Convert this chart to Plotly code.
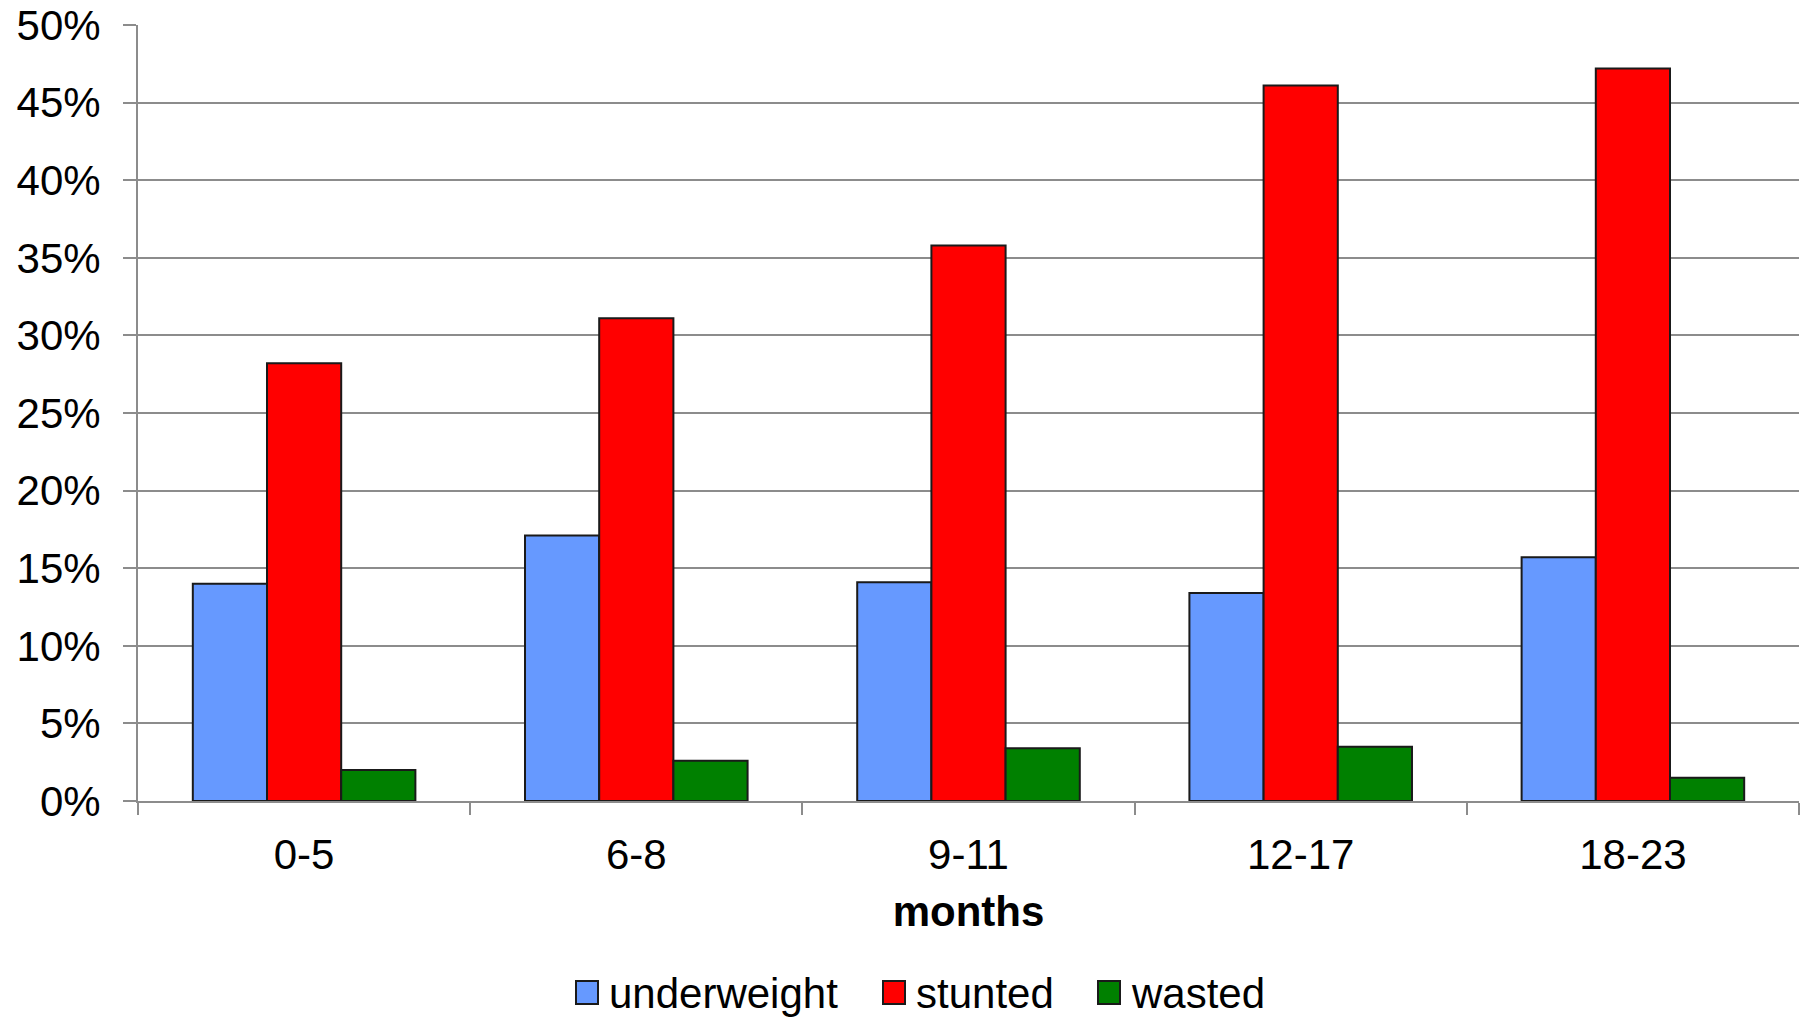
import plotly.graph_objects as go

# Age groups (months) and prevalence of each indicator, in percent
age_groups = ["0-5", "6-8", "9-11", "12-17", "18-23"]
underweight = [14.0, 17.1, 14.1, 13.4, 15.7]
stunted = [28.2, 31.1, 35.8, 46.1, 47.2]
wasted = [2.0, 2.6, 3.4, 3.5, 1.5]
y_ticks = [0, 5, 10, 15, 20, 25, 30, 35, 40, 45, 50]
y_tick_text = [f"{v}%" for v in y_ticks]

series_names = ["underweight", "stunted", "wasted"]
series_colors = ["#6699ff", "#ff0000", "#008000"]

FONT = "Liberation Sans, Arial, sans-serif"
GRID = "#8c8c8c"
OUTLINE = "#1a1a1a"
FS = 42

W, H = 1808, 1020
L, R, T, B = 138, 1799, 25, 801  # plot area edges in pixels


def px_x(px):
    return (px - L) / (R - L)


def px_y(py):
    return (B - py) / (B - T)


fig = go.Figure()
for name, values, color in zip(series_names, [underweight, stunted, wasted], series_colors):
    fig.add_trace(go.Bar(
        name=name, x=age_groups, y=values,
        marker=dict(color=color, line=dict(color=OUTLINE, width=2)),
    ))

# Legend row below the axis title: swatch + label per series
legend_swatches = [576, 883, 1098]
legend_mid = 993
shapes, annotations = [], []
for name, color, sx in zip(series_names, series_colors, legend_swatches):
    shapes.append(dict(
        type="rect", xref="paper", yref="paper",
        x0=px_x(sx), x1=px_x(sx + 22), y0=px_y(legend_mid + 11), y1=px_y(legend_mid - 12),
        fillcolor=color, line=dict(color=OUTLINE, width=2),
    ))
    annotations.append(dict(
        xref="paper", yref="paper", x=px_x(sx + 31), y=px_y(legend_mid),
        xanchor="left", yanchor="middle", showarrow=False,
        text=name, font=dict(size=FS, color="black", family=FONT),
    ))

fig.update_layout(
    width=W, height=H,
    margin=dict(l=L, r=W - R, t=T, b=H - B),
    paper_bgcolor="white", plot_bgcolor="white",
    barmode="group", bargap=0.33, bargroupgap=0,
    font=dict(family=FONT, size=FS, color="black"),
    showlegend=False,
    shapes=shapes, annotations=annotations,
    xaxis=dict(
        showline=True, linecolor=GRID, linewidth=2,
        ticks="outside", ticklen=12, tickwidth=2, tickcolor=GRID,
        tickson="boundaries", showgrid=False, automargin=False,
        tickfont=dict(size=FS), ticklabelstandoff=16,
        title=dict(text="<b>months</b>", font=dict(size=FS), standoff=19),
    ),
    yaxis=dict(
        range=[0, 50], tickvals=y_ticks, ticktext=y_tick_text,
        showline=True, linecolor=GRID, linewidth=2,
        ticks="outside", ticklen=13, tickwidth=2, tickcolor=GRID,
        showgrid=True, gridcolor=GRID, gridwidth=2, automargin=False,
        zeroline=False, tickfont=dict(size=FS),
        ticklabelstandoff=14,
    ),
)

fig.write_html("out.html")
